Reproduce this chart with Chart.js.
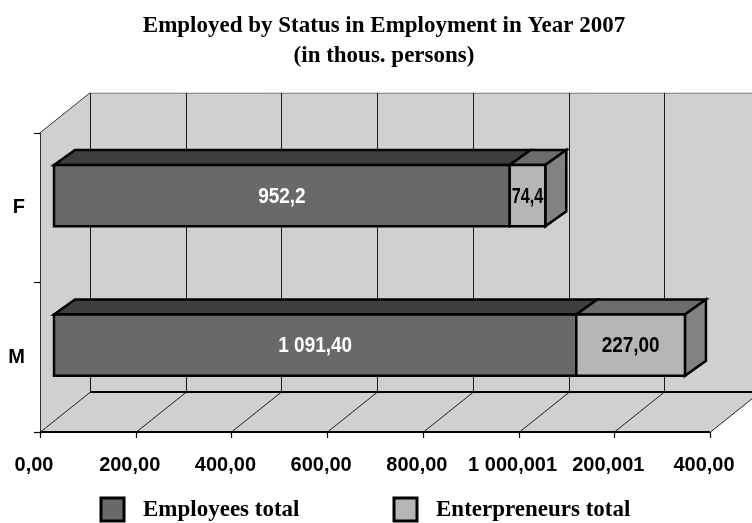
<!DOCTYPE html>
<html>
<head>
<meta charset="utf-8">
<script src="https://cdn.jsdelivr.net/npm/chart.js@4/dist/chart.umd.min.js"></script>
<style>
  html, body { margin: 0; padding: 0; background: #ffffff; }
  #wrap { width: 752px; height: 523px; position: relative; }
</style>
</head>
<body>
<div id="wrap"><canvas id="c" width="752" height="523"></canvas></div>
<script>
// ---- data ----
const categories = ['F', 'M'];
const seriesNames = ['Employees total', 'Enterpreneurs total'];
const employees = [952.2, 1091.4];
const entrepreneurs = [74.4, 227.0];
const employeeLabels = ['952,2', '1 091,40'];
const entrepreneurLabels = ['74,4', '227,00'];
const xTickLabels = ['0,00', '200,00', '400,00', '600,00', '800,00', '1 000,001', '200,001', '400,00'];
const titleLines = ['Employed by Status in Employment in Year 2007', '(in thous. persons)'];

// ---- styles ----
const WALL = 'rgb(208,208,208)';
const FRONT = ['rgb(105,105,105)', 'rgb(182,182,182)'];
const TOP = ['rgb(62,62,62)', 'rgb(108,108,108)'];
const SIDE = ['rgb(80,80,80)', 'rgb(130,130,130)'];
const TEXTCOL = ['#ffffff', '#000000'];
const valueLabels = [employeeLabels, entrepreneurLabels];
const SANS = "'Liberation Sans', Arial, sans-serif";
const SERIF = "'Liberation Serif', 'Times New Roman', serif";

const DX = 50, DY = -40;          // depth of the 3D box
const BX = 14, BY = -12;          // bar front face offset
const BDX = 21, BDY = -15;        // bar depth
const TITLE_SHIFT = 8;            // title centred over the 3D box

function poly(ctx, pts, fill, stroke, lw) {
  ctx.beginPath();
  ctx.moveTo(pts[0][0], pts[0][1]);
  for (let i = 1; i < pts.length; i++) ctx.lineTo(pts[i][0], pts[i][1]);
  ctx.closePath();
  if (fill) { ctx.fillStyle = fill; ctx.fill(); }
  if (stroke) { ctx.strokeStyle = stroke; ctx.lineWidth = lw || 1; ctx.stroke(); }
}
function line(ctx, x1, y1, x2, y2, col, lw) {
  ctx.beginPath();
  ctx.moveTo(x1, y1); ctx.lineTo(x2, y2);
  ctx.strokeStyle = col; ctx.lineWidth = lw || 1; ctx.stroke();
}

const threeD = {
  id: 'threeD',
  afterLayout(chart) {
    if (chart.titleBlock) {
      chart.titleBlock.left += TITLE_SHIFT;
      chart.titleBlock.right += TITLE_SHIFT;
    }
  },
  beforeDatasetsDraw(chart) {
    const { ctx, chartArea: a, scales: { x, y } } = chart;
    const L = a.left, R = a.right, T = a.top, B = a.bottom;
    ctx.save();
    ctx.lineJoin = 'miter';
    // walls
    poly(ctx, [[L, T], [L + DX, T + DY], [L + DX, B + DY], [L, B]], WALL);
    poly(ctx, [[L + DX, T + DY], [R + DX, T + DY], [R + DX, B + DY], [L + DX, B + DY]], WALL);
    poly(ctx, [[L, B], [L + DX, B + DY], [R + DX, B + DY], [R, B]], WALL);
    line(ctx, L + DX, T + DY + 0.5, R + DX, T + DY + 0.5, '#808080', 1);
    // value gridlines on back wall and floor, tick marks
    x.ticks.forEach(t => {
      const px = Math.round(x.getPixelForValue(t.value)) + 0.5;
      line(ctx, px + DX, T + DY, px + DX, B + DY, '#1a1a1a', 1);
      line(ctx, px, B, px + DX, B + DY, '#1a1a1a', 1);
      line(ctx, px, B, px, B + 6, '#000', 1.2);
    });
    // left wall edges
    line(ctx, L + 0.5, T, L + 0.5, B, '#333', 1);
    line(ctx, L, T, L + DX, T + DY, '#333', 1);
    // floor back edge and front axis
    line(ctx, L + DX, B + DY, R + DX + 10, B + DY, '#000', 2);
    line(ctx, L, B, R, B, '#000', 2);
    // category tick marks at boundaries
    for (let i = 0; i <= categories.length; i++) {
      const py = Math.round(y.getPixelForValue(i - 0.5)) + 0.5;
      line(ctx, L - 6, py, L, py, '#000', 1.2);
    }
    // 3D bars
    const n = chart.data.datasets.length;
    chart.data.datasets.forEach((ds, di) => {
      const meta = chart.getDatasetMeta(di);
      meta.data.forEach((el, i) => {
        const p = el.getProps(['x', 'y', 'base', 'height'], true);
        const x0 = p.base + BX, x1 = p.x + BX;
        const y0 = p.y - p.height / 2 + BY, y1 = p.y + p.height / 2 + BY;
        poly(ctx, [[x0, y0], [x1, y0], [x1 + BDX, y0 + BDY], [x0 + BDX, y0 + BDY]], TOP[di], '#000', 2.5);
        if (di === n - 1) {
          poly(ctx, [[x1, y0], [x1 + BDX, y0 + BDY], [x1 + BDX, y1 + BDY], [x1, y1]], SIDE[di], '#000', 2.5);
        }
        poly(ctx, [[x0, y0], [x1, y0], [x1, y1], [x0, y1]], FRONT[di], '#000', 2.5);
        // value label, slightly condensed like the reference
        const sx = 0.86;
        ctx.save();
        ctx.translate((x0 + x1) / 2, (y0 + y1) / 2 + 1);
        ctx.scale(sx, 1);
        ctx.fillStyle = TEXTCOL[di];
        ctx.font = 'bold 22px ' + SANS;
        ctx.textAlign = 'center';
        ctx.textBaseline = 'middle';
        ctx.fillText(valueLabels[di][i], 0, 0, (Math.abs(x1 - x0) - 4) / sx);
        ctx.restore();
      });
    });
    ctx.restore();
    return false;
  },
  afterDraw(chart) {
    const { ctx } = chart;
    const items = [{ x: 101 }, { x: 394 }];
    ctx.save();
    chart.data.datasets.forEach((ds, di) => {
      const bx = items[di].x, by = 498, s = 23;
      ctx.fillStyle = ds.backgroundColor;
      ctx.fillRect(bx, by, s, s);
      ctx.strokeStyle = '#000'; ctx.lineWidth = 3;
      ctx.strokeRect(bx, by, s, s);
      ctx.fillStyle = '#000';
      ctx.font = 'bold 23px ' + SERIF;
      ctx.textAlign = 'left';
      ctx.textBaseline = 'middle';
      ctx.fillText(ds.label, bx + 42, by + s / 2 + 1);
    });
    ctx.restore();
  }
};

new Chart(document.getElementById('c'), {
  type: 'bar',
  data: {
    labels: categories,
    datasets: [
      { label: seriesNames[0], data: employees, backgroundColor: FRONT[0], borderColor: '#000', borderWidth: 2 },
      { label: seriesNames[1], data: entrepreneurs, backgroundColor: FRONT[1], borderColor: '#000', borderWidth: 2 }
    ]
  },
  options: {
    indexAxis: 'y',
    responsive: false,
    animation: false,
    devicePixelRatio: 1,
    layout: { padding: { left: 0, right: 0, top: 0, bottom: 0 } },
    datasets: { bar: { barPercentage: 0.41, categoryPercentage: 1 } },
    plugins: {
      legend: { display: false },
      tooltip: { enabled: false },
      title: {
        display: true,
        text: titleLines,
        color: '#000',
        font: { family: SERIF, size: 23, weight: 'bold', lineHeight: 1.3 },
        padding: { top: 11, bottom: 62 }
      }
    },
    scales: {
      x: {
        stacked: true,
        min: 0, max: 1400,
        grid: { display: false, drawTicks: false },
        border: { display: false },
        ticks: {
          stepSize: 200,
          autoSkip: false,
          maxRotation: 0,
          labelOffset: -6,
          padding: 21,
          color: '#000',
          font: { family: SANS, size: 20, weight: 'bold' },
          callback: (v, i) => xTickLabels[i]
        },
        afterFit: s => { s.height = 91; s.paddingLeft = 0; s.paddingRight = 0; }
      },
      y: {
        stacked: true,
        grid: { display: false, drawTicks: false },
        border: { display: false },
        ticks: {
          padding: 15,
          color: '#000',
          font: { family: SANS, size: 20, weight: 'bold' }
        },
        afterFit: s => { s.width = 40; }
      },
      yDepth: {
        type: 'category',
        labels: categories,
        position: 'right',
        grid: { display: false, drawTicks: false },
        border: { display: false },
        ticks: { display: false },
        afterFit: s => { s.width = 42; }
      }
    }
  },
  plugins: [threeD]
});
</script>
</body>
</html>
